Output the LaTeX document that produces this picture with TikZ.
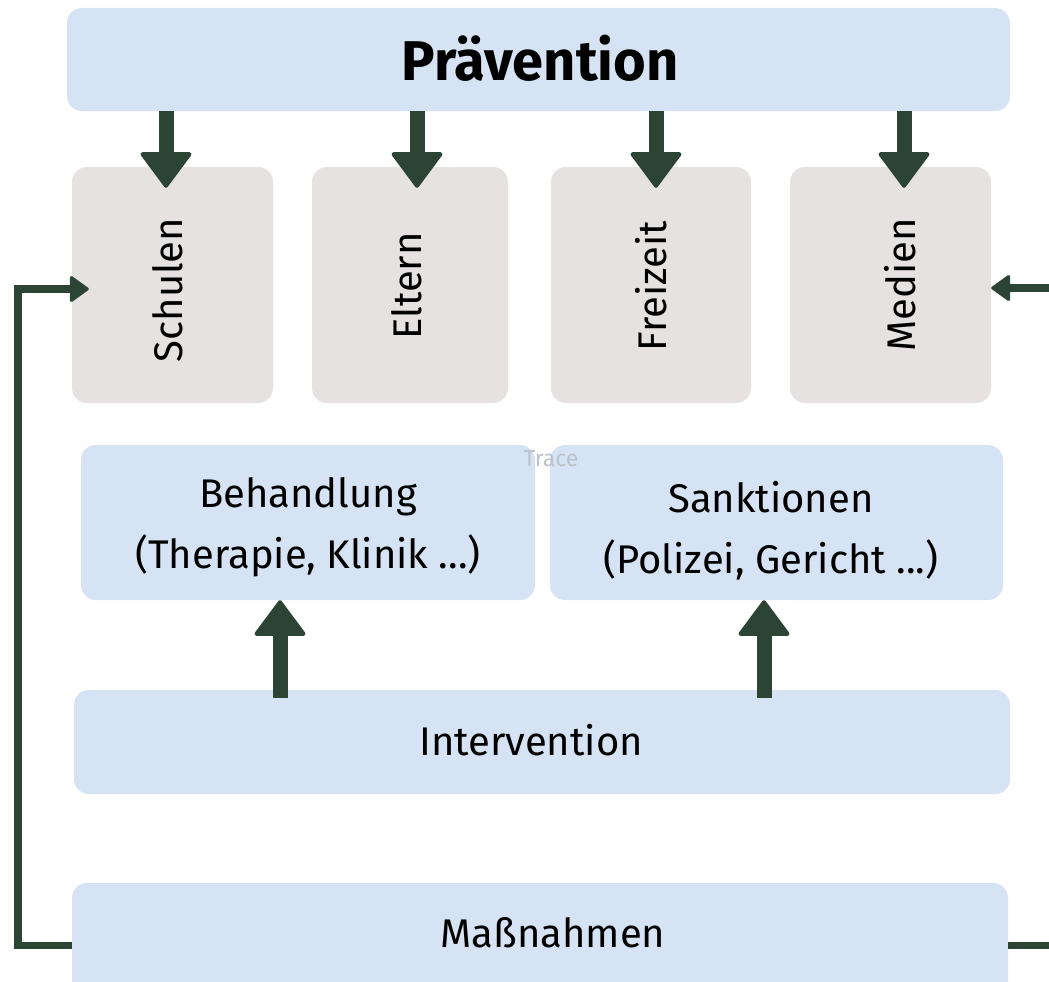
\documentclass[tikz,border=0pt]{standalone}
\usepackage{fontspec}
\setmainfont{Fira Sans}
\usetikzlibrary{arrows.meta,calc}
\definecolor{boxblue}{HTML}{D5E3F4}
\definecolor{boxgrey}{HTML}{E6E2E1}
\definecolor{arrowc}{HTML}{2C4434}
\definecolor{tracec}{HTML}{BCC3CC}
\tikzset{
  bluebox/.style={fill=boxblue, draw=none, rounded corners=15pt, inner sep=0pt},
  greybox/.style={fill=boxgrey, draw=none, rounded corners=15pt, inner sep=0pt},
  txt/.style={inner sep=0pt, align=center, font=\fontsize{40}{61}\selectfont, text=black},
  vtxt/.style={txt, rotate=90},
  bigarrow/.style={draw=arrowc, line width=15pt, -{Triangle[width=54pt,length=37pt,round,line width=4pt,fill=arrowc]}},
  conn/.style={draw=arrowc, line width=7.5pt},
  connarrow/.style={conn, -{Triangle[width=28pt,length=20pt,round,line width=3pt,fill=arrowc]}},
}
\begin{document}
\begin{tikzpicture}[x=1pt,y=-1pt]
\useasboundingbox (0,0) rectangle (1049,982);
% boxes
\node[bluebox, minimum width=943pt, minimum height=103pt] (prav) at (538.5,59.5) {};
\node[greybox, minimum width=201pt, minimum height=236pt] (schulen) at (172.5,285) {};
\node[greybox, minimum width=196pt, minimum height=236pt] (eltern) at (410,285) {};
\node[greybox, minimum width=200pt, minimum height=236pt] (freizeit) at (651,285) {};
\node[greybox, minimum width=201pt, minimum height=236pt] (medien) at (890.5,285) {};
\node[bluebox, minimum width=454pt, minimum height=155pt] (behand) at (308,522.5) {};
\node[bluebox, minimum width=453pt, minimum height=155pt] (sankt) at (776.5,522.5) {};
\node[bluebox, minimum width=936pt, minimum height=104pt] (interv) at (542,742) {};
\node[bluebox, minimum width=936pt, minimum height=125pt] (mass) at (540,945.5) {};
% texts
\node[txt, font=\fontsize{56}{62}\selectfont\bfseries] (pravt) at (540,58) {Prävention};
\node[vtxt] (schulent) at (168,290) {Schulen};
\node[vtxt] (elternt) at (407,286) {Eltern};
\node[vtxt] (freizeitt) at (651,286) {Freizeit};
\node[vtxt] (medient) at (900,285) {Medien};
\node[txt] (behandt) at (308,527) {Behandlung\\(Therapie, Klinik ...)};
\node[txt] (senktt) at (771,531) {Sanktionen\\(Polizei, Gericht ...)};
\node[txt] (intervt) at (531,740) {Intervention};
\node[txt] (masst) at (553,933) {Maßnahmen};
\node[inner sep=0pt, text=tracec, font=\fontsize{23}{26}\selectfont\addfontfeature{FakeBold=0}] (trace) at (551,459) {Trace};
% down arrows
\draw[bigarrow] ([xshift=-6.5pt]schulen.north |- prav.south) -- ([xshift=-6.5pt,yshift=-21pt]schulen.north);
\draw[bigarrow] ([xshift=7pt]eltern.north |- prav.south) -- ([xshift=7pt,yshift=-21pt]eltern.north);
\draw[bigarrow] ([xshift=5pt]freizeit.north |- prav.south) -- ([xshift=5pt,yshift=-21pt]freizeit.north);
\draw[bigarrow] ([xshift=13.5pt]medien.north |- prav.south) -- ([xshift=13.5pt,yshift=-21pt]medien.north);
% up arrows
\draw[bigarrow] ([xshift=-28pt,yshift=-8pt]interv.north -| behand.south) -- ([xshift=-28pt]behand.south);
\draw[bigarrow] ([xshift=-12.5pt,yshift=-8pt]interv.north -| sankt.south) -- ([xshift=-12.5pt]sankt.south);
% connectors
\coordinate (lcorner) at (18,945.5);
\draw[connarrow] (mass.west) -- (lcorner) |- ([xshift=17pt,yshift=-4pt]schulen.west);
\coordinate (rin) at (1060,288);
\draw[connarrow] (rin) -- (medien.east |- rin);
\coordinate (rout) at (1060,945.5);
\draw[conn] (mass.east) -- (rout);
\end{tikzpicture}
\end{document}
